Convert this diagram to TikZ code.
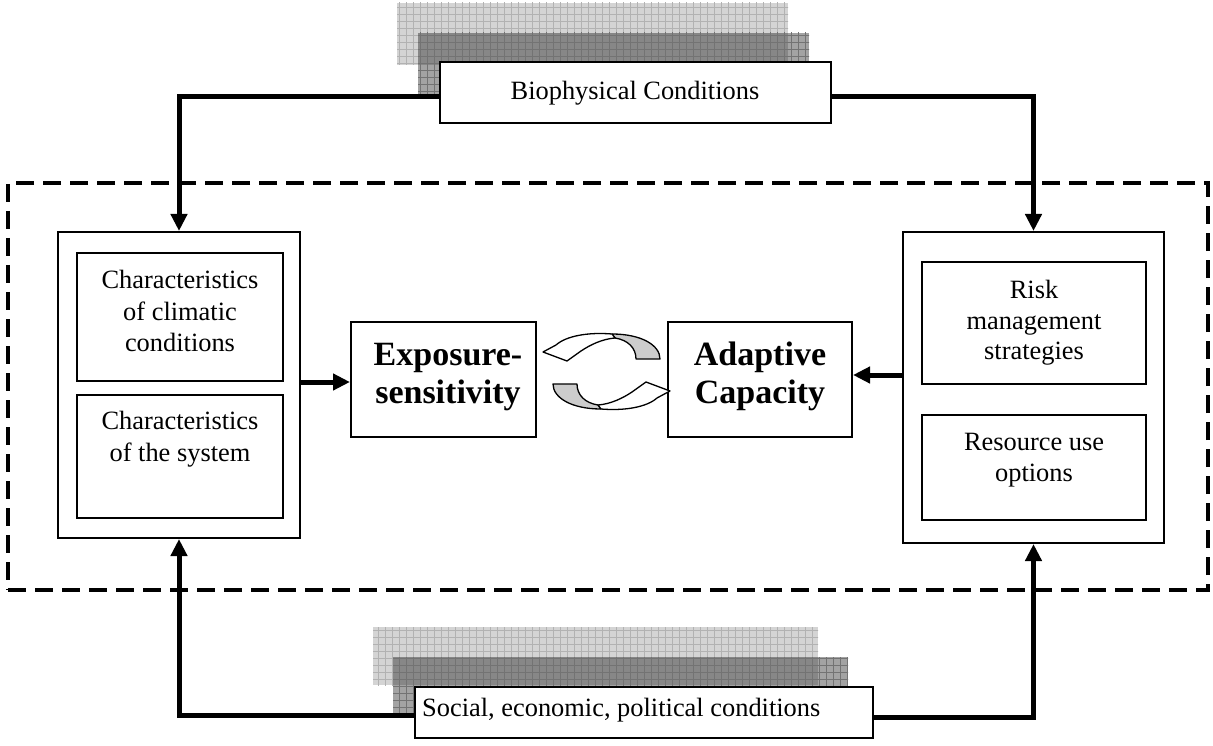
\documentclass[tikz,border=0pt]{standalone}
\usepackage{fontspec}
\setmainfont{Liberation Serif}
\usetikzlibrary{arrows.meta}
\begin{document}
\begin{tikzpicture}[x=1pt,y=-1pt,
  box/.style={draw, line width=2pt, fill=white, inner sep=0pt},
  frm/.style={draw, line width=4pt, dash pattern=on 18pt off 9pt, inner sep=0pt},
  txt/.style={anchor=base, inner sep=0pt, font=\fontsize{26.4}{31}\selectfont},
  btxt/.style={anchor=base, inner sep=0pt, font=\fontsize{34}{38}\selectfont\bfseries},
  conn/.style={line width=5pt, -{Triangle[length=17pt,width=16pt]}},
  lightsh/.style={fill=black!17},
  darksh/.style={fill=black, fill opacity=0.36},
  garrow/.style={draw, line width=1.3pt, fill=black!20, line join=round},
  warrow/.style={draw, line width=1.3pt, fill=white, line join=round}
]
\useasboundingbox (0,0) rectangle (1213,746);

% dashed frame
\node[frm, minimum width=1200pt, minimum height=407pt] (frame) at (608,386.5) {};

% shaded backgrounds top
\begin{scope}
  \clip (397,3) rectangle (788,65);
  \fill[lightsh] (397,3) rectangle (788,65);
  \draw[black!30, line width=0.7pt, step=7pt] (390,0) grid (800,70);
\end{scope}
\begin{scope}
  \clip (418,33) rectangle (809,97);
  \fill[darksh] (418,33) rectangle (809,97);
  \draw[black!55, line width=0.7pt, step=7pt] (410,30) grid (820,100);
\end{scope}
% shaded backgrounds bottom
\begin{scope}
  \clip (373,627) rectangle (818,685);
  \fill[lightsh] (373,627) rectangle (818,685);
  \draw[black!30, line width=0.7pt, step=7pt] (370,620) grid (830,690);
\end{scope}
\begin{scope}
  \clip (393,657) rectangle (848,717);
  \fill[darksh] (393,657) rectangle (848,717);
  \draw[black!55, line width=0.7pt, step=7pt] (390,650) grid (850,720);
\end{scope}

% boxes
\node[box, minimum width=391pt, minimum height=61pt] (bio) at (635.5,92.5) {};
\node[box, minimum width=458pt, minimum height=51pt] (soc) at (644,712.5) {};
\node[box, minimum width=242pt, minimum height=306pt] (lout) at (179,385) {};
\node[box, minimum width=206pt, minimum height=128pt] (lin1) at (180,317) {};
\node[box, minimum width=206pt, minimum height=123pt] (lin2) at (180,456.5) {};
\node[box, minimum width=261pt, minimum height=311pt] (rout) at (1033.5,387.5) {};
\node[box, minimum width=224pt, minimum height=122pt] (rin1) at (1034,323) {};
\node[box, minimum width=224pt, minimum height=105pt] (rin2) at (1034,467.5) {};
\node[box, minimum width=185pt, minimum height=115pt] (expo) at (443.5,379.5) {};
\node[box, minimum width=184pt, minimum height=115pt] (adap) at (760,379.5) {};

% texts
\node[txt] (tbio) at (635,100) {Biophysical Conditions};
\node[txt, anchor=base west] (tsoc) at (422,716) {Social, economic, political conditions};
\node[txt] (tl1) at (180,288.5) {Characteristics};
\node[txt] (tl2) at (180,320) {of climatic};
\node[txt] (tl3) at (180,351.5) {conditions};
\node[txt] (tl4) at (180,429) {Characteristics};
\node[txt] (tl5) at (180,461) {of the system};
\node[txt] (tr1) at (1034,298.5) {Risk};
\node[txt] (tr2) at (1034,329) {management};
\node[txt] (tr3) at (1034,359.5) {strategies};
\node[txt] (tr4) at (1034,450) {Resource use};
\node[txt] (tr5) at (1034,481) {options};
\node[btxt] (te1) at (448,365) {Exposure-};
\node[btxt] (te2) at (448,403) {sensitivity};
\node[btxt] (ta1) at (760,365) {Adaptive};
\node[btxt] (ta2) at (760,403) {Capacity};

% connectors
\draw[conn] ([yshift=-4.5pt]bio.west) -| (lout.north);
\draw[conn] ([yshift=-4.5pt]bio.east) -| (rout.north);
\draw[conn] ([yshift=-2.5pt]soc.west) -| (lout.south);
\draw[conn] ([yshift=-4.5pt]soc.east) -| (rout.south);
\draw[conn] ([yshift=3pt]lout.east) -- ([yshift=3pt]lout.east -| expo.west);
\draw[conn] ([yshift=12.5pt]rout.west) -- ([yshift=12.5pt]rout.west -| adap.east);

% circular arrows
\newcommand\cyclearrowpaths{%
  \path[garrow] (612,334) .. controls (641,334) and (660,345) .. (660,359) -- (636,359) .. controls (636,348) and (628,340) .. (615,338) -- cycle;
  \path[warrow] (612,334) .. controls (588,332) and (566,336) .. (556,345) -- (543,352) -- (567,361) -- (581,351) .. controls (590,345) and (602,339) .. (615,338) -- cycle;
}
\begin{scope}
  \cyclearrowpaths
\end{scope}
\begin{scope}[rotate around={180:(606.5,371.5)}]
  \cyclearrowpaths
\end{scope}
\end{tikzpicture}
\end{document}
